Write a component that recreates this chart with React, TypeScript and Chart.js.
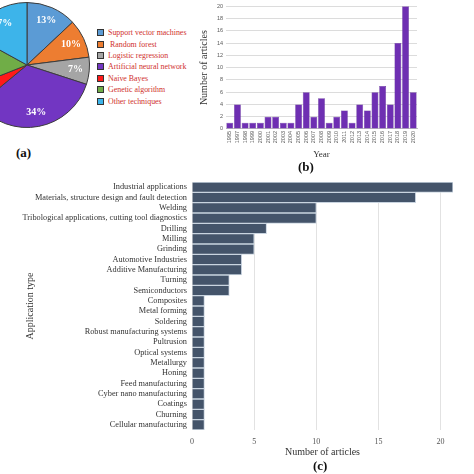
import { useEffect, useRef } from 'react';
import { Chart, registerables } from 'chart.js';

Chart.register(...registerables);

const SERIF = '"Liberation Serif", "Times New Roman", serif';
const SANS = '"Liberation Sans", Arial, sans-serif';

// (a) share of techniques
const techniques = [
  'Support vector machines',
  ' Random forest',
  'Logistic regression',
  'Artificial neural network',
  'Naive Bayes',
  'Genetic algorithm',
  'Other techniques',
];
const techniqueShares = [13, 10, 7, 34, 5, 14, 17];
const techniqueColors = ['#5B9BD5', '#ED7D31', '#A5A5A5', '#7236C2', '#FF1A1A', '#70AD47', '#3DB4EA'];

// (b) articles per year
const years = [
  '1995', '1997', '1998', '1999', '2000', '2001', '2002', '2003', '2004', '2005',
  '2006', '2007', '2008', '2009', '2010', '2011', '2012', '2013', '2014', '2015',
  '2016', '2017', '2018', '2019', '2020',
];
const articlesPerYear = [1, 4, 1, 1, 1, 2, 2, 1, 1, 4, 6, 2, 5, 1, 2, 3, 1, 4, 3, 6, 7, 4, 14, 20, 6];

// (c) articles per application type
const applications = [
  'Industrial applications',
  'Materials, structure design and fault detection',
  'Welding',
  'Tribological applications, cutting tool diagnostics',
  'Drilling',
  'Milling',
  'Grinding',
  'Automotive Industries',
  'Additive Manufacturing',
  'Turning',
  'Semiconductors',
  'Composites',
  'Metal forming',
  'Soldering',
  'Robust manufacturing systems',
  'Pultrusion',
  'Optical systems',
  'Metallurgy',
  'Honing',
  'Feed manufacturing',
  'Cyber nano manufacturing',
  'Coatings',
  'Churning',
  'Cellular manufacturing',
];
const articlesPerApplication = [21, 18, 10, 10, 6, 5, 5, 4, 4, 3, 3, 1, 1, 1, 1, 1, 1, 1, 1, 1, 1, 1, 1, 1];
const applicationTicks = [0, 5, 10, 15, 20];

// percent labels inside the pie slices
const pieLabels = {
  id: 'pieLabels',
  afterDatasetsDraw(chart: any) {
    const { ctx } = chart;
    const meta = chart.getDatasetMeta(0);
    ctx.save();
    ctx.font = `bold 10px ${SERIF}`;
    ctx.fillStyle = '#ffffff';
    ctx.textAlign = 'center';
    ctx.textBaseline = 'middle';
    meta.data.forEach((arc: any, i: number) => {
      const { x, y, startAngle, endAngle, outerRadius } = arc.getProps(
        ['x', 'y', 'startAngle', 'endAngle', 'outerRadius'],
        true
      );
      const mid = (startAngle + endAngle) / 2;
      const r = outerRadius * 0.78;
      ctx.fillText(techniqueShares[i] + '%', x + Math.cos(mid) * r, y + Math.sin(mid) * r);
    });
    ctx.restore();
  },
};

function TechniquesPie() {
  const canvasRef = useRef<HTMLCanvasElement>(null);

  useEffect(() => {
    if (!canvasRef.current) return;
    const chart = new Chart(canvasRef.current, {
      type: 'pie',
      data: {
        labels: techniques,
        datasets: [{
          data: techniqueShares,
          backgroundColor: techniqueColors,
          borderColor: '#3c3c3c',
          borderWidth: 1,
        }],
      },
      options: {
        responsive: true,
        maintainAspectRatio: false,
        animation: false,
        layout: { padding: 0 },
        plugins: {
          legend: { display: false },
          tooltip: { enabled: false },
        },
      },
      plugins: [pieLabels],
    });
    return () => chart.destroy();
  }, []);

  return <canvas ref={canvasRef} />;
}

function YearBars() {
  const canvasRef = useRef<HTMLCanvasElement>(null);

  useEffect(() => {
    if (!canvasRef.current) return;
    const chart = new Chart(canvasRef.current, {
      type: 'bar',
      data: {
        labels: years,
        datasets: [{
          data: articlesPerYear,
          backgroundColor: '#6E2FB2',
          borderColor: '#55228f',
          borderWidth: 0.5,
          barPercentage: 0.9,
          categoryPercentage: 1,
        }],
      },
      options: {
        responsive: true,
        maintainAspectRatio: false,
        animation: false,
        layout: { padding: { left: 2, right: 57, top: 0, bottom: 2 } },
        plugins: {
          legend: { display: false },
          tooltip: { enabled: false },
        },
        scales: {
          x: {
            grid: { display: false, drawTicks: false },
            border: { color: '#bfbfbf' },
            ticks: {
              autoSkip: false,
              minRotation: 90,
              maxRotation: 90,
              padding: 2,
              color: '#595959',
              font: { family: SANS, size: 5.5 },
            },
            title: {
              display: true,
              text: 'Year',
              color: '#333',
              padding: { top: 4, bottom: 0 },
              font: { family: SERIF, size: 9 },
            },
          },
          y: {
            min: 0,
            max: 20,
            border: { display: false },
            grid: { color: '#dcdcdc', drawTicks: false },
            ticks: {
              stepSize: 2,
              padding: 3,
              color: '#595959',
              font: { family: SANS, size: 5.5 },
            },
            title: {
              display: true,
              text: 'Number of articles',
              color: '#333',
              padding: { top: 0, bottom: 0 },
              font: { family: SERIF, size: 10 },
            },
            afterFit(scale: any) {
              scale.width = 28;
            },
          },
        },
      },
    });
    return () => chart.destroy();
  }, []);

  return <canvas ref={canvasRef} />;
}

function ApplicationBars() {
  const canvasRef = useRef<HTMLCanvasElement>(null);

  useEffect(() => {
    if (!canvasRef.current) return;
    const chart = new Chart(canvasRef.current, {
      type: 'bar',
      data: {
        labels: applications,
        datasets: [{
          data: articlesPerApplication,
          backgroundColor: '#44546A',
          borderColor: '#c9d4e0',
          borderWidth: 1,
          barPercentage: 1,
          categoryPercentage: 1,
        }],
      },
      options: {
        indexAxis: 'y',
        responsive: true,
        maintainAspectRatio: false,
        animation: false,
        layout: { padding: { left: 20, right: 21, top: 10, bottom: 14 } },
        plugins: {
          legend: { display: false },
          tooltip: { enabled: false },
        },
        scales: {
          x: {
            min: 0,
            max: 21,
            border: { display: false },
            grid: { color: '#e2e2e2', drawTicks: false },
            ticks: {
              padding: 7,
              color: '#555',
              font: { family: SERIF, size: 8 },
            },
            afterBuildTicks(scale: any) {
              scale.ticks = applicationTicks.map((value) => ({ value }));
            },
            title: {
              display: true,
              text: 'Number of articles',
              color: '#333',
              padding: { top: 0, bottom: 2 },
              font: { family: SERIF, size: 10 },
            },
            afterFit(scale: any) {
              scale.height = 30;
            },
          },
          y: {
            border: { display: false },
            grid: { display: false, drawTicks: false },
            ticks: {
              autoSkip: false,
              padding: 5,
              color: '#333',
              font: { family: SERIF, size: 8.3 },
            },
            title: {
              display: true,
              text: 'Application type',
              color: '#333',
              padding: { top: 4, bottom: 0 },
              font: { family: SERIF, size: 10 },
            },
            afterFit(scale: any) {
              scale.width = 172;
            },
          },
        },
      },
    });
    return () => chart.destroy();
  }, []);

  return <canvas ref={canvasRef} />;
}

const panelLabel = {
  position: 'absolute' as const,
  fontFamily: SERIF,
  fontWeight: 'bold' as const,
  fontSize: 13,
  color: '#111',
  lineHeight: '14px',
};

export default function App() {
  return (
    <div
      style={{
        position: 'fixed',
        left: 0,
        top: 0,
        width: 474,
        height: 474,
        overflow: 'hidden',
        background: '#fff',
      }}
    >
      <div style={{ position: 'absolute', left: -36, top: 2, width: 126, height: 126 }}>
        <TechniquesPie />
      </div>
      <div
        style={{
          position: 'absolute',
          left: 97,
          top: 27,
          fontFamily: SERIF,
          fontSize: 7.9,
          color: '#d0302c',
        }}
      >
        {techniques.map((t, i) => (
          <div key={t} style={{ display: 'flex', alignItems: 'center', height: 11.4, whiteSpace: 'pre' }}>
            <span
              style={{
                display: 'inline-block',
                width: 5,
                height: 5,
                background: techniqueColors[i],
                border: '0.5px solid #333',
                marginRight: 4,
              }}
            />
            {t}
          </div>
        ))}
      </div>
      <div style={{ ...panelLabel, left: 16, top: 146 }}>(a)</div>

      <div style={{ position: 'absolute', left: 196, top: 0, width: 278, height: 162 }}>
        <YearBars />
      </div>
      <div style={{ ...panelLabel, left: 298, top: 160 }}>(b)</div>

      <div style={{ position: 'absolute', left: 0, top: 172, width: 474, height: 302 }}>
        <ApplicationBars />
      </div>
      <div style={{ ...panelLabel, left: 313, top: 459 }}>(c)</div>
    </div>
  );
}
